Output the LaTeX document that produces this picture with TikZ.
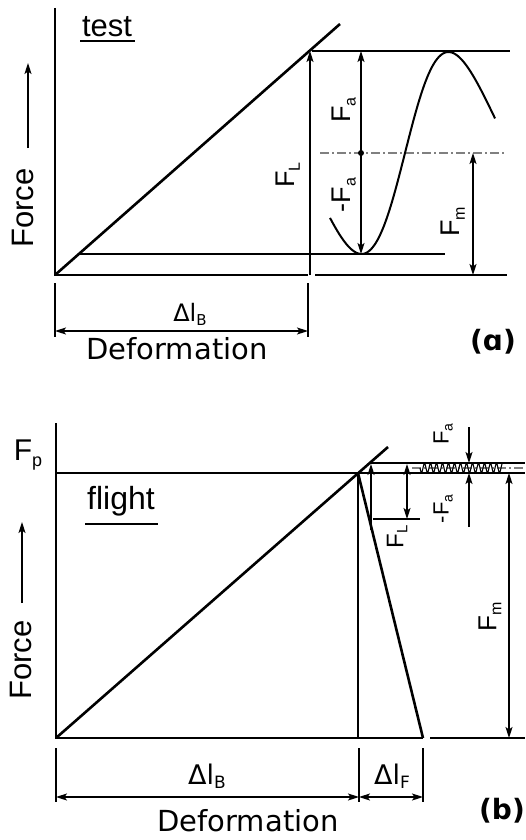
\documentclass[tikz,border=0pt]{standalone}
\usepackage{fontspec}
\setmainfont{Liberation Sans}
\newfontfamily\dvs{DejaVu Sans}
\newfontfamily\dvsb{DejaVu Sans Bold}
\usetikzlibrary{arrows.meta}
\newcommand\fsz[1]{\fontsize{#1}{#1}\selectfont}
\newcommand\lsub[3]{\raisebox{-#1}{\fsz{#2}#3}}
\begin{document}
\begin{tikzpicture}[x=1pt,y=-1pt,
  ax/.style={line width=2.6pt},
  thin/.style={line width=1.3pt},
  tip/.tip={Stealth[length=11pt,width=7pt,inset=2.5pt]},
  arr/.style={line width=1.3pt,-tip},
  darr/.style={line width=1.3pt,tip-tip},
  dd/.style={line width=1.3pt,gray,dash pattern=on 9pt off 3pt on 2pt off 3pt},
  lbl/.style={inner sep=0pt,outer sep=0pt}]
\useasboundingbox (0,0) rectangle (525,840);
% ================= panel (a) =================
\coordinate (Oa) at (55,275);
\coordinate (Ta) at (55,8);
\coordinate (Ba) at (308,275);
\coordinate (Da) at (340,24);
\draw[ax] (Ta) -- (Oa) -- (Ba);
\draw[ax] (Oa) -- (Da);
\coordinate (La0) at (310,275);
\coordinate (La1) at (310,51);
\draw[arr] (La0) -- (La1);
\coordinate (TopL) at (312,51);
\coordinate (TopR) at (510,51);
\draw[thin] (TopL) -- (TopR);
\coordinate (MinL) at (79,254);
\coordinate (MinR) at (445,254);
\draw[thin] (MinL) -- (MinR);
\coordinate (BotL) at (315,275);
\coordinate (BotR) at (507,275);
\draw[thin] (BotL) -- (BotR);
\coordinate (MidL) at (320,153);
\coordinate (MidR) at (505,153);
\draw[dd] (MidL) -- (MidR);
\coordinate (FaT) at (361,51);
\coordinate (FaB) at (361,254);
\draw[darr] (FaT) -- (FaB);
\fill (361,153) circle (3);
\coordinate (FmT) at (473,153);
\coordinate (FmB) at (473,275);
\draw[darr] (FmT) -- (FmB);
\draw[line width=2pt] plot[domain=-140:160,samples=90,variable=\s]
  ({405+0.4464*\s+4.55*(\s/100)^3},{153+101*cos(\s+90)});
% labels (a)
\node[lbl,font=\fsz{31}] (test) at (107,27) {test};
\draw[line width=2pt] (80,41) -- (135,41);
\coordinate (FAa0) at (28,148);
\coordinate (FAa1) at (28,63);
\draw[arr] (FAa0) -- (FAa1);
\node[lbl,rotate=90,font=\fsz{31}] (forcea) at (23,208) {Force};
\node[lbl,rotate=90,font=\fsz{27}] (FLa) at (288,175) {F\lsub{5pt}{16}{L}};
\node[lbl,rotate=90,font=\fsz{27}] (Faa) at (344,110) {F\lsub{5pt}{16}{a}};
\node[lbl,rotate=90,font=\fsz{27}] (mFaa) at (344,195) {-F\lsub{5pt}{16}{a}};
\node[lbl,rotate=90,font=\fsz{27}] (Fma) at (453,222) {F\lsub{5pt}{16}{m}};
% dimension (a)
\draw[thin] (55,283) -- (55,337);
\draw[thin] (308,283) -- (308,337);
\coordinate (dA0) at (55,331);
\coordinate (dA1) at (308,331);
\draw[darr] (dA0) -- (dA1);
\node[lbl,font=\dvs\fsz{24}] (dlBa) at (190,314) {Δl\lsub{4pt}{15}{B}};
\node[lbl,font=\dvs\fsz{29}] (defa) at (177,349) {Deformation};
\node[lbl,font=\dvsb\fsz{28}] (pa) at (493,342) {(ɑ)};
% ================= panel (b) =================
\coordinate (Ob) at (56,738);
\coordinate (Tb) at (56,423);
\coordinate (Bb) at (423,738);
\coordinate (Db) at (388,447);
\coordinate (P) at (358,473);
\draw[ax] (Tb) -- (Ob) -- (Bb);
\draw[ax] (Ob) -- (Db);
\draw[ax] (P) -- (Bb);
\coordinate (Pb) at (358,738);
\draw[thin] (P) -- (Pb);
\coordinate (FpL) at (56,473);
\coordinate (FpR) at (525,473);
\draw[thin] (FpL) -- (FpR);
\coordinate (UpL) at (370,463);
\coordinate (UpR) at (525,463);
\draw[thin] (UpL) -- (UpR);
\coordinate (FLb0) at (371,530);
\coordinate (FLb1) at (371,464);
\draw[arr] (FLb0) -- (FLb1);
\coordinate (LoL) at (373,519);
\coordinate (LoR) at (420,519);
\draw[thin] (LoL) -- (LoR);
\coordinate (FLd0) at (407,519);
\coordinate (FLd1) at (407,464);
\draw[darr] (FLd0) -- (FLd1);
\coordinate (MbL) at (412,468);
\coordinate (MbR) at (525,468);
\draw[dd] (MbL) -- (MbR);
\draw[line width=1.1pt] plot[domain=420:502,samples=160,variable=\x]
  (\x,{468+4.5*sin(60*(\x-420))});
\coordinate (Fab0) at (469,427);
\coordinate (Fab1) at (469,463);
\draw[arr] (Fab0) -- (Fab1);
\coordinate (mFab0) at (469,527);
\coordinate (mFab1) at (469,473);
\draw[arr] (mFab0) -- (mFab1);
\coordinate (FmbT) at (509,473);
\coordinate (FmbB) at (509,738);
\draw[darr] (FmbT) -- (FmbB);
\coordinate (BRl) at (430,738);
\coordinate (BRr) at (525,738);
\draw[thin] (BRl) -- (BRr);
% labels (b)
\node[lbl,font=\fsz{30}] (Fp) at (28,455) {F\lsub{6pt}{18}{p}};
\node[lbl,font=\fsz{32}] (flight) at (121,501) {flight};
\draw[line width=2pt] (85,524) -- (158,524);
\coordinate (FAb0) at (22,603);
\coordinate (FAb1) at (22,522);
\draw[arr] (FAb0) -- (FAb1);
\node[lbl,rotate=90,font=\fsz{31}] (forceb) at (21,660) {Force};
\node[lbl,rotate=90,font=\fsz{24}] (FLb) at (397,537) {F\lsub{4pt}{15}{L}};
\node[lbl,rotate=90,font=\fsz{22}] (Fab) at (443,434) {F\lsub{4pt}{14}{a}};
\node[lbl,rotate=90,font=\fsz{22}] (mFab) at (443,509) {-F\lsub{4pt}{14}{a}};
\node[lbl,rotate=90,font=\fsz{26}] (Fmb) at (490,617) {F\lsub{5pt}{16}{m}};
% dimension (b)
\draw[thin] (56,748) -- (56,802);
\draw[thin] (359,748) -- (359,802);
\draw[thin] (423,748) -- (423,802);
\coordinate (dB0) at (56,797);
\coordinate (dB1) at (359,797);
\coordinate (dB2) at (423,797);
\draw[darr] (dB0) -- (dB1);
\draw[darr] (dB1) -- (dB2);
\node[lbl,font=\dvs\fsz{27}] (dlBb) at (207,776) {Δl\lsub{4pt}{17}{B}};
\node[lbl,font=\dvs\fsz{27}] (dlFb) at (392,776) {Δl\lsub{4pt}{17}{F}};
\node[lbl,font=\dvs\fsz{29}] (defb) at (248,821) {Deformation};
\node[lbl,font=\dvsb\fsz{28}] (pb) at (502,811) {(b)};
\end{tikzpicture}
\end{document}
